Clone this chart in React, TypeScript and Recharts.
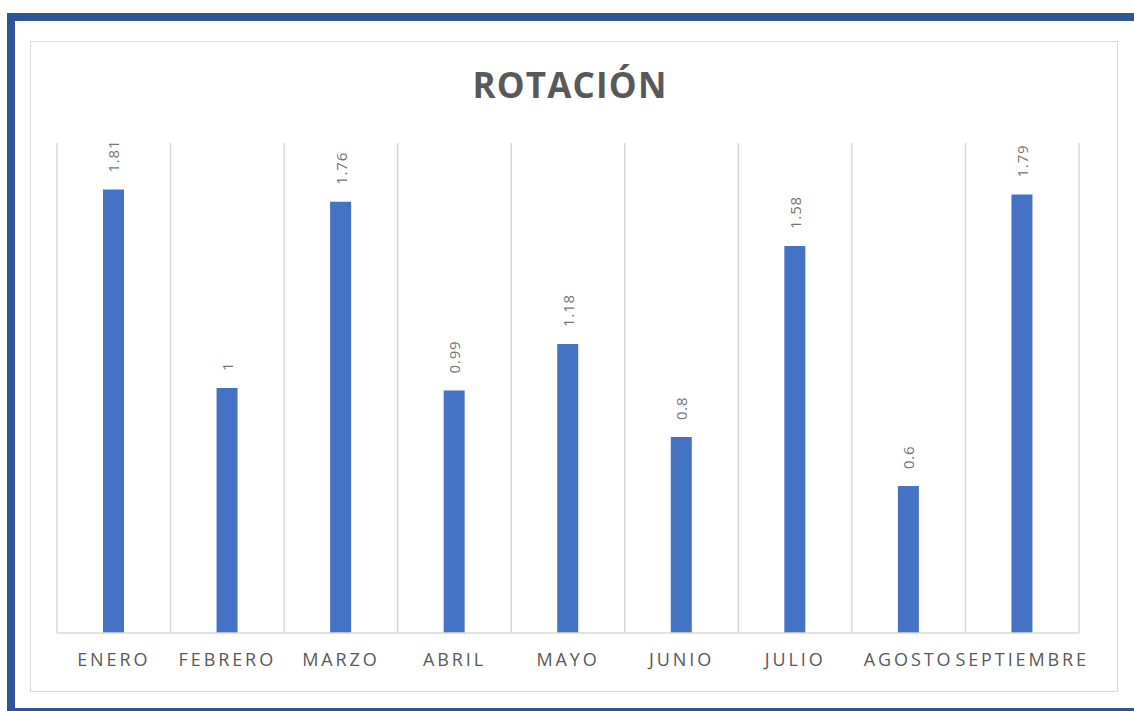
import React from 'react';
import {
    BarChart,
    Bar,
    XAxis,
    YAxis,
    CartesianGrid,
    LabelList
} from 'recharts';

/* ============================
   Data
============================ */

const months = [
    'ENERO', 'FEBRERO', 'MARZO', 'ABRIL', 'MAYO',
    'JUNIO', 'JULIO', 'AGOSTO', 'SEPTIEMBRE'
];

const rotation = [1.81, 1, 1.76, 0.99, 1.18, 0.8, 1.58, 0.6, 1.79];

const yDomain = [0, 2];

const data = months.map((m, i) => ({ month: m, value: rotation[i] }));

const BAR_COLOR = '#4472C4';
const FRAME_COLOR = '#2F5597';
const GRID_COLOR = '#D9D9D9';
const FONT = '"Open Sans", "Liberation Sans", sans-serif';

/* ============================
   Custom pieces
============================ */

const MonthTick = (props: any) => {
    const { x, y, payload } = props;
    return (
        <text
            x={x}
            y={y}
            dy={25}
            textAnchor="middle"
            fill="#595959"
            fontSize={18}
            fontFamily={FONT}
            letterSpacing={2.9}
        >
            {payload.value}
        </text>
    );
};

const ValueLabel = (props: any) => {
    const { x, y, width, value } = props;
    const cx = x + width / 2;
    const cy = y - 17;
    return (
        <text
            x={cx}
            y={cy}
            transform={`rotate(-90, ${cx}, ${cy})`}
            textAnchor="start"
            dominantBaseline="central"
            fill="#757575"
            fontSize={15}
            fontFamily={FONT}
            letterSpacing={0.8}
        >
            {value}
        </text>
    );
};

// gridlines sit on the category boundaries, not the centres
const boundaryLines = ({ offset }: any) =>
    Array.from({ length: months.length + 1 }, (_, i) =>
        offset.left + (i * offset.width) / months.length
    );

/* ============================
   Component
============================ */

const App: React.FC = () => {
    return (
        <div
            style={{
                position: 'absolute',
                left: 0,
                top: 0,
                width: 1134,
                height: 711,
                overflow: 'hidden',
                background: '#fff'
            }}
        >
            {/* outer blue frame */}
            <div
                style={{
                    position: 'absolute',
                    left: 7,
                    top: 13,
                    width: 1200,
                    height: 687,
                    border: `8px solid ${FRAME_COLOR}`
                }}
            />
            {/* chart area box */}
            <div
                style={{
                    position: 'absolute',
                    left: 30,
                    top: 41,
                    width: 1086,
                    height: 649,
                    border: `1.5px solid ${GRID_COLOR}`
                }}
            />

            <svg
                width={1134}
                height={120}
                style={{ position: 'absolute', left: 0, top: 0 }}
            >
                <text
                    x={570}
                    y={98}
                    textAnchor="middle"
                    fill="#595959"
                    fontSize={35}
                    fontWeight="bold"
                    fontFamily={FONT}
                    letterSpacing={1.2}
                >
                    ROTACIÓN
                </text>
            </svg>

            <div style={{ position: 'absolute', left: 0, top: 0 }}>
                <BarChart
                    width={1134}
                    height={711}
                    data={data}
                    margin={{ top: 143, right: 55, bottom: 48, left: 57 }}
                >
                    <CartesianGrid
                        horizontal={false}
                        stroke={GRID_COLOR}
                        strokeWidth={1.5}
                        verticalCoordinatesGenerator={boundaryLines}
                    />
                    <XAxis
                        dataKey="month"
                        interval={0}
                        tickLine={false}
                        axisLine={{ stroke: GRID_COLOR, strokeWidth: 1.5 }}
                        tick={<MonthTick />}
                    />
                    <YAxis hide domain={yDomain} />
                    <Bar
                        dataKey="value"
                        fill={BAR_COLOR}
                        barSize={21}
                        isAnimationActive={false}
                    >
                        <LabelList dataKey="value" content={<ValueLabel />} />
                    </Bar>
                </BarChart>
            </div>
        </div>
    );
};

export default App;
